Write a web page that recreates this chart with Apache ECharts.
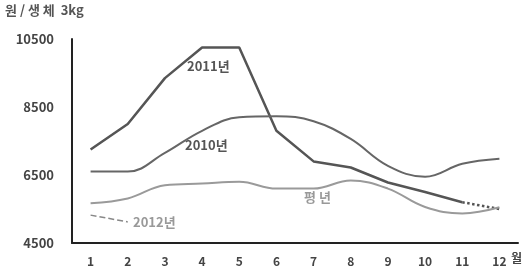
<!DOCTYPE html>
<html><head><meta charset="utf-8">
<script src="https://cdn.jsdelivr.net/npm/echarts@6/dist/echarts.min.js"></script>
<style>html,body{margin:0;padding:0;background:#fff}#c{width:525px;height:270px}</style>
</head><body><div id="c"></div>
<script>
const months = ['1','2','3','4','5','6','7','8','9','10','11','12'];
const y2011 = [7250, 8000, 9350, 10250, 10250, 7800, 6900, 6720, 6280, 6000, 5700, null];
const y2011Est = [null, null, null, null, null, null, null, null, null, null, 5700, 5500];
const y2010 = [6600, 6600, 7150, 7800, 8200, 8230, 8080, 7560, 6770, 6450, 6830, 6980];
const avgYear = [5670, 5810, 6200, 6250, 6300, 6100, 6100, 6340, 6100, 5560, 5370, 5550];
const y2012 = [5320, 5120];
const yTicks = [4500, 6500, 8500, 10500];

const font = '"Noto Sans CJK KR", "Noto Sans", sans-serif';
const chart = echarts.init(document.getElementById('c'));
chart.setOption({
  animation: false,
  grid: {left: 72, right: 7, top: 39, bottom: 27},
  xAxis: {
    type: 'category', data: months, boundaryGap: true,
    axisLine: {lineStyle: {color: '#222', width: 2}},
    axisTick: {show: false},
    axisLabel: {color: '#444', fontSize: 12, fontWeight: 'bold', fontFamily: font, margin: 12}
  },
  yAxis: {
    type: 'value', min: yTicks[0], max: yTicks[yTicks.length-1], interval: 2000,
    axisLine: {show: true, lineStyle: {color: '#222', width: 2}},
    axisTick: {show: false},
    splitLine: {show: false},
    axisLabel: {color: '#444', fontSize: 13, fontWeight: 'bold', fontFamily: font, margin: 18,
      formatter: v => String(v)}
  },
  series: [
    {name: '2011년', type: 'line', data: y2011, symbol: 'none', lineStyle: {color: '#555', width: 2.5}},
    {name: '2011년 추정', type: 'line', data: y2011Est, symbol: 'none', lineStyle: {color: '#555', width: 2.5, type: 'dotted'}},
    {name: '2010년', type: 'line', data: y2010, symbol: 'none', smooth: 0.4, lineStyle: {color: '#666', width: 2}},
    {name: '평년', type: 'line', data: avgYear, symbol: 'none', smooth: 0.4, lineStyle: {color: '#9a9a9a', width: 2}},
    {name: '2012년', type: 'line', data: y2012, symbol: 'none', lineStyle: {color: '#888', width: 1.5, type: 'dashed'}}
  ],
  graphic: [
    {type: 'text', left: 5, top: 4, style: {text: '원 / 생 체  3kg', fill: '#555', font: 'bold 13px ' + font}},
    {type: 'text', left: 511, top: 252, style: {text: '월', fill: '#444', font: 'bold 12px ' + font}},
    {type: 'text', left: 187, top: 60, style: {text: '2011년', fill: '#555', font: 'bold 13px ' + font}},
    {type: 'text', left: 185, top: 139, style: {text: '2010년', fill: '#555', font: 'bold 13px ' + font}},
    {type: 'text', left: 304, top: 191, style: {text: '평 년', fill: '#999', font: 'bold 13px ' + font}},
    {type: 'text', left: 133, top: 216, style: {text: '2012년', fill: '#999', font: 'bold 13px ' + font}}
  ]
});
</script></body></html>
